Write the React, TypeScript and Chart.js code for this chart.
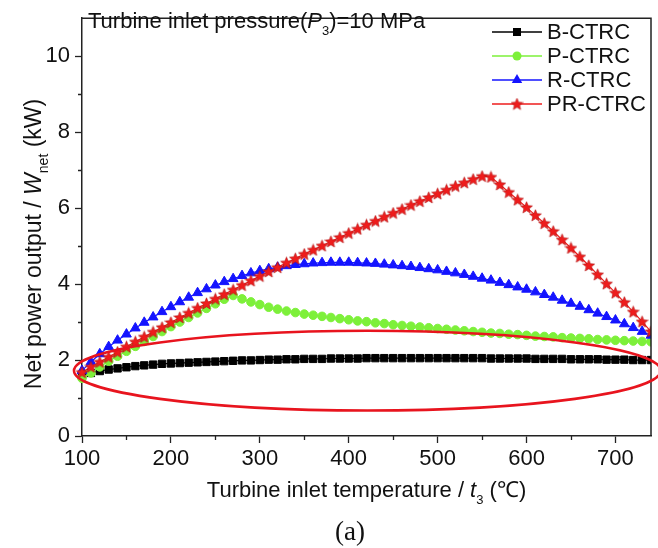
import React, { useEffect, useRef } from "react";
import { Chart, registerables } from "chart.js";

Chart.register(...registerables);

// ---------- data ----------
const temps = [100, 110, 120, 130, 140, 150, 160, 170, 180, 190, 200, 210, 220, 230, 240, 250, 260, 270, 280, 290, 300, 310, 320, 330, 340, 350, 360, 370, 380, 390, 400, 410, 420, 430, 440, 450, 460, 470, 480, 490, 500, 510, 520, 530, 540, 550, 560, 570, 580, 590, 600, 610, 620, 630, 640, 650, 660, 670, 680, 690, 700, 710, 720, 730, 740];

const bCtrc = [1.6, 1.66, 1.71, 1.75, 1.78, 1.81, 1.84, 1.86, 1.88, 1.9, 1.91, 1.92, 1.93, 1.94, 1.95, 1.96, 1.97, 1.98, 1.99, 1.99, 2.0, 2.01, 2.01, 2.02, 2.02, 2.03, 2.03, 2.03, 2.04, 2.04, 2.04, 2.04, 2.05, 2.05, 2.05, 2.05, 2.05, 2.05, 2.05, 2.05, 2.05, 2.05, 2.05, 2.05, 2.05, 2.05, 2.04, 2.04, 2.04, 2.04, 2.04, 2.03, 2.03, 2.03, 2.03, 2.02, 2.02, 2.02, 2.02, 2.01, 2.01, 2.01, 2.0, 2.0, 2.0];

const pCtrc = [1.52, 1.66, 1.82, 1.97, 2.1, 2.23, 2.36, 2.49, 2.62, 2.75, 2.88, 3.0, 3.12, 3.24, 3.36, 3.48, 3.6, 3.7, 3.61, 3.53, 3.46, 3.39, 3.34, 3.29, 3.25, 3.21, 3.18, 3.15, 3.12, 3.09, 3.06, 3.03, 3.01, 2.98, 2.96, 2.93, 2.91, 2.89, 2.87, 2.85, 2.83, 2.81, 2.79, 2.77, 2.75, 2.73, 2.71, 2.7, 2.68, 2.67, 2.65, 2.63, 2.62, 2.61, 2.59, 2.58, 2.57, 2.56, 2.54, 2.53, 2.52, 2.51, 2.5, 2.49, 2.48];

const rCtrc = [1.72, 1.95, 2.16, 2.35, 2.52, 2.68, 2.84, 2.99, 3.13, 3.27, 3.4, 3.53, 3.65, 3.77, 3.87, 3.97, 4.06, 4.14, 4.22, 4.29, 4.35, 4.4, 4.44, 4.48, 4.51, 4.53, 4.55, 4.56, 4.57, 4.57, 4.57, 4.56, 4.55, 4.54, 4.52, 4.5, 4.48, 4.46, 4.43, 4.4, 4.37, 4.33, 4.29, 4.25, 4.2, 4.15, 4.1, 4.04, 3.98, 3.92, 3.86, 3.79, 3.72, 3.65, 3.57, 3.49, 3.41, 3.32, 3.23, 3.14, 3.05, 2.95, 2.85, 2.75, 2.65];

const prCtrc = [1.68, 1.82, 1.95, 2.08, 2.21, 2.35, 2.48, 2.61, 2.74, 2.86, 2.99, 3.12, 3.24, 3.37, 3.49, 3.61, 3.73, 3.85, 3.97, 4.09, 4.21, 4.33, 4.44, 4.56, 4.67, 4.79, 4.9, 5.01, 5.12, 5.23, 5.34, 5.45, 5.56, 5.66, 5.77, 5.87, 5.97, 6.08, 6.18, 6.28, 6.38, 6.48, 6.58, 6.67, 6.76, 6.84, 6.82, 6.62, 6.42, 6.22, 6.02, 5.81, 5.6, 5.39, 5.17, 4.95, 4.72, 4.49, 4.25, 4.01, 3.77, 3.52, 3.27, 3.01, 2.75];

const seriesNames = ["B-CTRC", "P-CTRC", "R-CTRC", "PR-CTRC"];
const xTicks = [100, 200, 300, 400, 500, 600, 700];
const xMinorTicks = [150, 250, 350, 450, 550, 650];
const yTicks = [0, 2, 4, 6, 8, 10];
const yMinorTicks = [1, 3, 5, 7, 9];
// highlighted region (ellipse) in data units: centre x, centre y, half-width, half-height
const ellipseCenter = [421, 1.72];
const ellipseRadii = [330, 1.05];

// ---------- styles ----------
const FONT = '"Liberation Sans", Arial, Helvetica, sans-serif';
const FS = 22;
const TEXT = "#111";
const AXIS = "#222";
const BLACK = "#000000";
const GREEN = "#7DF03A";
const BLUE = "#1414FF";
const RED = "#EE1C1C";

function makeStar(size: number, color: string) {
  const c = document.createElement("canvas");
  c.width = size;
  c.height = size;
  const g = c.getContext("2d")!;
  const cx = size / 2;
  const cy = size / 2 + 0.5;
  const R = size / 2 - 0.3;
  const r = R * 0.45;
  g.beginPath();
  for (let i = 0; i < 10; i++) {
    const a = -Math.PI / 2 + (i * Math.PI) / 5;
    const rad = i % 2 === 0 ? R : r;
    g.lineTo(cx + rad * Math.cos(a), cy + rad * Math.sin(a));
  }
  g.closePath();
  g.fillStyle = color;
  g.fill();
  g.strokeStyle = "#B01010";
  g.lineWidth = 0.6;
  g.stroke();
  return c;
}

type Seg = { t: string; it?: boolean; sub?: boolean };

function drawRich(ctx: CanvasRenderingContext2D, segs: Seg[], x: number, y: number, size: number, align: "left" | "center") {
  const fontOf = (s: Seg) => `${s.it ? "italic " : ""}${s.sub ? Math.round(size * 0.6) : size}px ${FONT}`;
  let total = 0;
  const widths = segs.map((s) => {
    ctx.font = fontOf(s);
    const w = ctx.measureText(s.t).width;
    total += w;
    return w;
  });
  let cx = align === "center" ? x - total / 2 : x;
  ctx.textAlign = "left";
  ctx.textBaseline = "alphabetic";
  ctx.fillStyle = TEXT;
  segs.forEach((s, i) => {
    ctx.font = fontOf(s);
    ctx.fillText(s.t, cx, s.sub ? y + size * 0.3 : y);
    cx += widths[i];
  });
}

function drawMarker(ctx: CanvasRenderingContext2D, kind: string, x: number, y: number, color: string, star: HTMLCanvasElement) {
  ctx.fillStyle = color;
  ctx.strokeStyle = color;
  if (kind === "rect") {
    ctx.fillRect(x - 4, y - 4, 8, 8);
  } else if (kind === "circle") {
    ctx.beginPath();
    ctx.arc(x, y, 4.5, 0, Math.PI * 2);
    ctx.fill();
  } else if (kind === "triangle") {
    const r = 6;
    ctx.beginPath();
    ctx.moveTo(x, y - r);
    ctx.lineTo(x + r * 0.866, y + r * 0.5);
    ctx.lineTo(x - r * 0.866, y + r * 0.5);
    ctx.closePath();
    ctx.fill();
  } else {
    ctx.drawImage(star, x - star.width / 2, y - star.height / 2);
  }
}

export default function App() {
  const ref = useRef<HTMLCanvasElement | null>(null);

  useEffect(() => {
    const canvas = ref.current;
    if (!canvas) return;
    const star = makeStar(13, RED);
    const colors = [BLACK, GREEN, BLUE, RED];
    const kinds = ["rect", "circle", "triangle", "star"];

    const overlay = {
      id: "overlay",
      afterDraw(chart: any) {
        const ctx: CanvasRenderingContext2D = chart.ctx;
        const { left, right, top, bottom } = chart.chartArea;
        const xs = chart.scales.x;
        const ys = chart.scales.y;
        ctx.save();
        // frame
        ctx.strokeStyle = AXIS;
        ctx.lineWidth = 1.5;
        ctx.beginPath();
        ctx.moveTo(left, top);
        ctx.lineTo(right, top);
        ctx.lineTo(right, bottom);
        ctx.stroke();
        // minor ticks
        ctx.lineWidth = 1.3;
        ctx.beginPath();
        xMinorTicks.forEach((v) => {
          const px = Math.round(xs.getPixelForValue(v)) + 0.5;
          ctx.moveTo(px, bottom);
          ctx.lineTo(px, bottom + 4);
        });
        yMinorTicks.forEach((v) => {
          const py = Math.round(ys.getPixelForValue(v)) + 0.5;
          ctx.moveTo(left, py);
          ctx.lineTo(left - 4, py);
        });
        ctx.stroke();

        // ellipse highlight
        const ecx = xs.getPixelForValue(ellipseCenter[0]);
        const erx = xs.getPixelForValue(ellipseCenter[0] + ellipseRadii[0]) - ecx;
        const ecy = ys.getPixelForValue(ellipseCenter[1]);
        const ery = ecy - ys.getPixelForValue(ellipseCenter[1] + ellipseRadii[1]);
        ctx.strokeStyle = "#E8141E";
        ctx.lineWidth = 2.6;
        ctx.beginPath();
        ctx.ellipse(ecx, ecy, erx, ery, 0, 0, Math.PI * 2);
        ctx.stroke();

        // legend
        const rows = [32, 56, 80, 104];
        seriesNames.forEach((name, i) => {
          const y = rows[i];
          ctx.strokeStyle = colors[i];
          ctx.lineWidth = 1.3;
          ctx.beginPath();
          ctx.moveTo(492, y);
          ctx.lineTo(542, y);
          ctx.stroke();
          drawMarker(ctx, kinds[i], 517, y, colors[i], star);
          ctx.fillStyle = TEXT;
          ctx.font = `${FS}px ${FONT}`;
          ctx.textAlign = "left";
          ctx.textBaseline = "middle";
          ctx.fillText(name, 547, y + 1);
        });

        // annotation
        drawRich(ctx, [{ t: "Turbine inlet pressure(" }, { t: "P", it: true }, { t: "3", sub: true }, { t: ")=10 MPa" }], 88, 28, FS, "left");

        // x title
        drawRich(ctx, [{ t: "Turbine inlet temperature / " }, { t: "t", it: true }, { t: "3", sub: true }, { t: " (℃)" }], (left + right) / 2, 497, FS, "center");

        // y title
        ctx.save();
        ctx.translate(41, 244);
        ctx.rotate(-Math.PI / 2);
        drawRich(ctx, [{ t: "Net power output / " }, { t: "W", it: true }, { t: "net", sub: true }, { t: " (kW)" }], 0, 0, 23, "center");
        ctx.restore();

        // panel label
        ctx.fillStyle = TEXT;
        ctx.font = `27px "Liberation Serif", "Times New Roman", serif`;
        ctx.textAlign = "center";
        ctx.textBaseline = "alphabetic";
        ctx.fillText("(a)", 350, 540);
        ctx.restore();
      },
    };

    const mk = (label: string, data: number[], color: string, style: any, radius: number, order: number) => ({
      label,
      data: temps.map((t, i) => ({ x: t, y: data[i] })),
      borderColor: color,
      backgroundColor: color,
      borderWidth: 1.2,
      pointStyle: style,
      pointRadius: radius,
      pointBorderWidth: 1,
      pointBorderColor: color,
      pointBackgroundColor: color,
      tension: 0,
      order,
      clip: { left: 10, top: 0, right: 0, bottom: 0 },
    });

    const chart = new Chart(canvas, {
      type: "line",
      data: {
        datasets: [
          mk(seriesNames[0], bCtrc, BLACK, "rect", 5.2, 3),
          mk(seriesNames[1], pCtrc, GREEN, "circle", 4.3, 2),
          mk(seriesNames[2], rCtrc, BLUE, "triangle", 5.6, 1),
          mk(seriesNames[3], prCtrc, RED, star, 6, 0),
        ] as any,
      },
      options: {
        animation: false,
        responsive: false,
        maintainAspectRatio: false,
        devicePixelRatio: 1,
        events: [],
        layout: { padding: { left: 0, top: 9, right: 2, bottom: 0 } },
        plugins: { legend: { display: false }, tooltip: { enabled: false }, title: { display: false } },
        scales: {
          x: {
            type: "linear",
            min: 100,
            max: 740,
            afterFit: (s: any) => {
              s.height = 112;
            },
            afterBuildTicks: (s: any) => {
              s.ticks = xTicks.map((v) => ({ value: v }));
            },
            border: { display: true, color: AXIS, width: 1.5 },
            grid: { drawOnChartArea: false, drawTicks: true, tickLength: 7, tickColor: AXIS, tickWidth: 1.3 },
            ticks: {
              autoSkip: false,
              maxRotation: 0,
              padding: 3,
              color: TEXT,
              font: { family: FONT, size: FS },
            },
          },
          y: {
            type: "linear",
            min: 0,
            max: 11,
            afterFit: (s: any) => {
              s.width = 82;
            },
            afterBuildTicks: (s: any) => {
              s.ticks = yTicks.map((v) => ({ value: v }));
            },
            border: { display: true, color: AXIS, width: 1.5 },
            grid: { drawOnChartArea: false, drawTicks: true, tickLength: 7, tickColor: AXIS, tickWidth: 1.3 },
            ticks: {
              padding: 5,
              color: TEXT,
              font: { family: FONT, size: FS },
            },
          },
        },
      } as any,
      plugins: [overlay],
    });

    return () => {
      chart.destroy();
    };
  }, []);

  return (
    <div style={{ position: "fixed", left: 0, top: 0, width: 658, height: 548, background: "#fff" }}>
      <canvas ref={ref} width={658} height={548} style={{ width: 658, height: 548, display: "block" }} />
    </div>
  );
}
